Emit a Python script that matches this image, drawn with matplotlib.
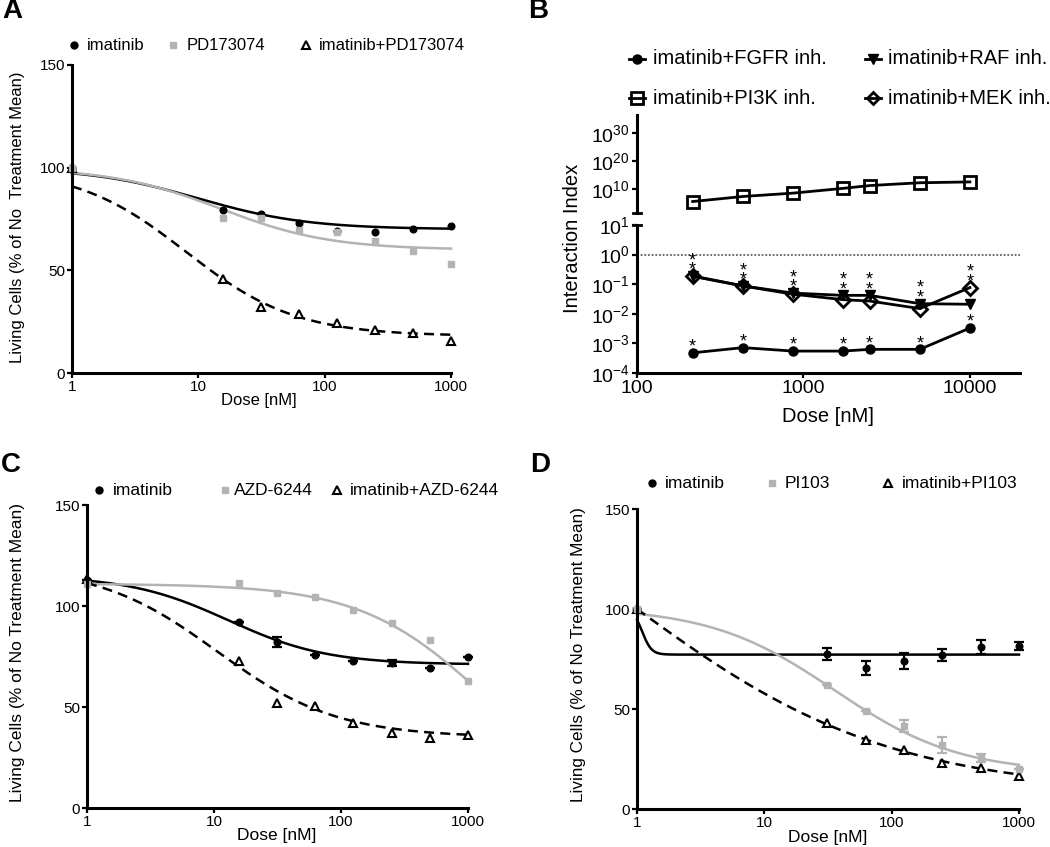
import numpy as np
import matplotlib.pyplot as plt
from matplotlib.lines import Line2D

plt.rcParams['font.family'] = ['Liberation Sans', 'DejaVu Sans']
plt.rcParams['mathtext.fontset'] = 'custom'
plt.rcParams['mathtext.rm'] = 'Liberation Sans'
plt.rcParams['mathtext.it'] = 'Liberation Sans:italic'
plt.rcParams['mathtext.bf'] = 'Liberation Sans:bold'

# ---------------- data ----------------
dose = [1, 15.625, 31.25, 62.5, 125, 250, 500, 1000]

# panel A: imatinib / PD173074
a_imatinib = [100, 79.5, 77.3, 73.2, 69.0, 68.8, 70.0, 71.6]
a_pd = [100, 75.4, 75.5, 69.6, 68.5, 64.3, 59.6, 53.1]
a_combo = [100, 46, 32, 28.5, 24.5, 21, 19.5, 15.5]
# fitted curves: top, bottom, EC50, hill
a_fit_imatinib = (100, 70, 10, 1.0)
a_fit_pd = (100, 60, 15, 1.0)
a_fit_combo = (100, 18, 8, 1.0)

# panel C: imatinib / AZD-6244
c_imatinib = [113, 92, 82.4, 75.8, 73, 71.7, 69.2, 75]
c_imatinib_err = [0, 0, 2.5, 0, 0, 1.5, 0, 0]
c_azd = [111, 111.3, 106.3, 104.7, 98, 91.8, 83.2, 63.1]
c_combo = [113.5, 73, 52, 50.3, 42, 37.1, 34.6, 36.3]
c_fit_imatinib = (115, 71, 12.9, 1.11)
c_fit_azd = (111, 0, 1355, 0.885)
c_fit_combo = (120, 35, 10.6, 0.92)

# panel D: imatinib / PI103
d_dose = [1, 31.25, 62.5, 125, 250, 500, 1000]
d_imatinib = [100, 77.5, 70.5, 74.2, 76.8, 80.8, 81.3]
d_imatinib_err = [0, 3, 3.3, 4, 3, 3.5, 2]
d_pi103 = [100, 61.8, 48.8, 41.3, 32.2, 25.5, 20]
d_pi103_err = [0, 0, 0, 3, 4, 2, 0]
d_combo = [100, 43, 34.3, 29.7, 23, 20.5, 16.7]
d_fit_imatinib = (100, 77.2, 1.1, 12)
d_fit_pi103 = (101, 18, 35.4, 0.885)
d_fit_combo = (200, 8, 0.82, 0.42)

# panel B: interaction index
b_dose = [216, 433, 866, 1732, 2500, 5000, 10000]
b_fgfr = [4.8e-4, 7.2e-4, 5.5e-4, 5.5e-4, 6.3e-4, 6.3e-4, 3.3e-3]
b_pi3k = [10**5.5, 10**7.3, 10**8.5, 10**10.2, 10**11.2, 10**12.2, 10**12.5]
b_raf = [0.19, 0.088, 0.050, 0.042, 0.042, 0.022, 0.021]
b_mek = [0.185, 0.087, 0.046, 0.030, 0.027, 0.015, 0.077]

GRAY = '#b3b3b3'
W, H = 1050, 847
fig = plt.figure(figsize=(10.5, 8.47), dpi=100)


def box(l, t, r, b):
    return [l / W, 1 - b / H, (r - l) / W, (b - t) / H]


def px(x, y):
    return x / W, 1 - y / H


def logistic(x, top, bottom, ec50, hill):
    return bottom + (top - bottom) / (1 + (x / ec50) ** hill)


def style_axes(ax, labelsize=11, lw=2.2):
    for s in ['top', 'right']:
        ax.spines[s].set_visible(False)
    for s in ['left', 'bottom']:
        ax.spines[s].set_linewidth(lw)
    ax.tick_params(direction='out', length=3.6, width=1.6, pad=1.5, labelsize=labelsize)


def dose_panel(ax, xd, y1, y2, y3, fits, err1=None, err2=None):
    xs = np.logspace(0, 3, 400)
    ax.plot(xs, logistic(xs, *fits[0]), color='black', lw=1.8, clip_on=False)
    ax.plot(xs, logistic(xs, *fits[1]), color=GRAY, lw=1.8, clip_on=False)
    ax.plot(xs, logistic(xs, *fits[2]), color='black', lw=1.8, ls=(0, (4, 2.5)), clip_on=False)
    ax.errorbar(xd, y1, yerr=err1, fmt='o', color='black', ms=4.8, elinewidth=1.6,
                capsize=3.4, capthick=1.6, clip_on=False)
    ax.errorbar(xd, y2, yerr=err2, fmt='s', color=GRAY, ms=4.8, elinewidth=1.6,
                capsize=3.4, capthick=1.6, clip_on=False)
    ax.plot(xd, y3, '^', ms=6, mfc='white', mec='black', mew=1.5, clip_on=False)
    ax.set_xscale('log')
    ax.set_xlim(1, 1000)
    ax.set_ylim(0, 150)
    ax.set_xticks([1, 10, 100, 1000])
    ax.set_xticklabels(['1', '10', '100', '1000'])
    ax.minorticks_off()
    ax.set_yticks([0, 50, 100, 150])
    style_axes(ax)


def legend_item(x, y, tx, text, fs, **mk):
    fig.add_artist(Line2D([x / W], [1 - y / H], transform=fig.transFigure, ls='none', **mk))
    fig.text(tx / W, 1 - y / H, text, fontsize=fs, va='center', ha='left')


# ---------------- panel A ----------------
axA = fig.add_axes(box(72, 65, 451, 373))
dose_panel(axA, dose, a_imatinib, a_pd, a_combo, [a_fit_imatinib, a_fit_pd, a_fit_combo])
fig.text(*px(18, 217), 'Living Cells (% of No  Treatment Mean)', rotation=90,
         ha='center', va='center', fontsize=12)
fig.text(*px(259, 401), 'Dose [nM]', ha='center', va='center', fontsize=12)
legend_item(74, 45, 87, 'imatinib', 12, marker='o', ms=5, color='black')
legend_item(173, 45, 187, 'PD173074', 12, marker='s', ms=5, color=GRAY)
legend_item(306, 45, 319, 'imatinib+PD173074', 12, marker='^', ms=6, mfc='white', mec='black', mew=1.5)

# ---------------- panel C ----------------
axC = fig.add_axes(box(87, 505, 468, 808))
dose_panel(axC, dose, c_imatinib, c_azd, c_combo, [c_fit_imatinib, c_fit_azd, c_fit_combo],
           err1=c_imatinib_err)
fig.text(*px(18, 653), 'Living Cells (% of No Treatment Mean)', rotation=90,
         ha='center', va='center', fontsize=12.5)
fig.text(*px(277, 835), 'Dose [nM]', ha='center', va='center', fontsize=12.5)
legend_item(99, 490, 113, 'imatinib', 12.5, marker='o', ms=5, color='black')
legend_item(225, 490, 234, 'AZD-6244', 12.5, marker='s', ms=5, color=GRAY)
legend_item(337, 490, 350, 'imatinib+AZD-6244', 12.5, marker='^', ms=6, mfc='white', mec='black', mew=1.5)

# ---------------- panel D ----------------
axD = fig.add_axes(box(637, 509, 1019, 809))
dose_panel(axD, d_dose, d_imatinib, d_pi103, d_combo, [d_fit_imatinib, d_fit_pi103, d_fit_combo],
           err1=d_imatinib_err, err2=d_pi103_err)
fig.text(*px(578, 655), 'Living Cells (% of No Treatment Mean)', rotation=90,
         ha='center', va='center', fontsize=12.3)
fig.text(*px(828, 837), 'Dose [nM]', ha='center', va='center', fontsize=12.5)
legend_item(652, 483, 665, 'imatinib', 12.5, marker='o', ms=5, color='black')
legend_item(772, 483, 785, 'PI103', 12.5, marker='s', ms=5, color=GRAY)
legend_item(888, 483, 902, 'imatinib+PI103', 12.5, marker='^', ms=6, mfc='white', mec='black', mew=1.5)

# ---------------- panel B (broken y axis) ----------------
axBu = fig.add_axes(box(637, 115, 1020, 213))
axBl = fig.add_axes(box(637, 225, 1020, 373))

axBu.plot(b_dose, b_pi3k, '-s', color='black', lw=2, ms=8.5, mfc='none', mew=2, clip_on=False)
axBu.set_xscale('log')
axBu.set_yscale('log')
axBu.set_xlim(100, 20000)
axBu.set_ylim(10**1.4, 10**36.4)
axBu.set_yticks([1e10, 1e20, 1e30])
axBu.set_yticklabels([r'$10^{10}$', r'$10^{20}$', r'$10^{30}$'])
axBu.minorticks_off()
style_axes(axBu, labelsize=14)
axBu.spines['bottom'].set_visible(False)
axBu.tick_params(axis='x', bottom=False, labelbottom=False)

axBl.axhline(1, color='#444444', lw=1.1, ls=(0, (1.2, 1.2)), clip_on=False)
axBl.plot(b_dose, b_fgfr, '-o', color='black', lw=2, ms=6.5, clip_on=False)
axBl.plot(b_dose, b_mek, '-D', color='black', lw=2, ms=7, mfc='none', mew=2, clip_on=False)
axBl.plot(b_dose, b_raf, '-v', color='black', lw=2, ms=7.5, clip_on=False)
axBl.set_xscale('log')
axBl.set_yscale('log')
axBl.set_xlim(100, 20000)
axBl.set_ylim(1e-4, 1e1)
axBl.set_xticks([100, 1000, 10000])
axBl.set_xticklabels(['100', '1000', '10000'])
axBl.set_yticks([1e-4, 1e-3, 1e-2, 1e-1, 1e0, 1e1])
axBl.set_yticklabels([r'$10^{-4}$', r'$10^{-3}$', r'$10^{-2}$', r'$10^{-1}$', r'$10^{0}$', r'$10^{1}$'])
axBl.minorticks_off()
style_axes(axBl, labelsize=14)

# break caps on the left spine
for yb in [213, 225]:
    fig.add_artist(Line2D([(637 - 4) / W, (637 + 4) / W], [1 - yb / H, 1 - yb / H],
                          transform=fig.transFigure, color='black', lw=2))

# significance stars (one text per point, pairs stacked in one text)
STAR_FS = 13


def stars(ax, x, y, n):
    ax.annotate('\n'.join(['*'] * n), xy=(x, y), xytext=(0, -2.0), textcoords='offset points',
                ha='center', va='bottom', fontsize=STAR_FS, linespacing=0.42,
                annotation_clip=False)


for xd, f, r, m in zip(b_dose, b_fgfr, b_raf, b_mek):
    stars(axBl, xd, f, 1)
    stars(axBl, xd, max(r, m), 2)

fig.text(*px(572, 238), 'Interaction Index', rotation=90, ha='center', va='center', fontsize=14.5)
fig.text(*px(828, 416), 'Dose [nM]', ha='center', va='center', fontsize=14.5)


def b_legend(x, y, tx, text, **mk):
    fig.add_artist(Line2D([(x - 8) / W, (x + 8) / W], [1 - y / H, 1 - y / H],
                          transform=fig.transFigure, color='black', lw=2))
    fig.add_artist(Line2D([x / W], [1 - y / H], transform=fig.transFigure, ls='none',
                          color='black', **mk))
    fig.text(tx / W, 1 - y / H, text, fontsize=14.5, va='center', ha='left')


b_legend(637, 59, 653, 'imatinib+FGFR inh.', marker='o', ms=6.5)
b_legend(873, 59, 888, 'imatinib+RAF inh.', marker='v', ms=7)
b_legend(637, 98, 653, 'imatinib+PI3K inh.', marker='s', ms=8, mfc='none', mew=2)
b_legend(873, 98, 888, 'imatinib+MEK inh.', marker='D', ms=6.5, mfc='none', mew=2)

# panel letters
for lab, (x, y) in zip('ABCD', [(12, 11), (538, 11), (11, 465), (540, 465)]):
    fig.text(*px(x, y), lab, fontsize=20, fontweight='bold', ha='center', va='center')

fig.savefig('out.png', dpi=100)
